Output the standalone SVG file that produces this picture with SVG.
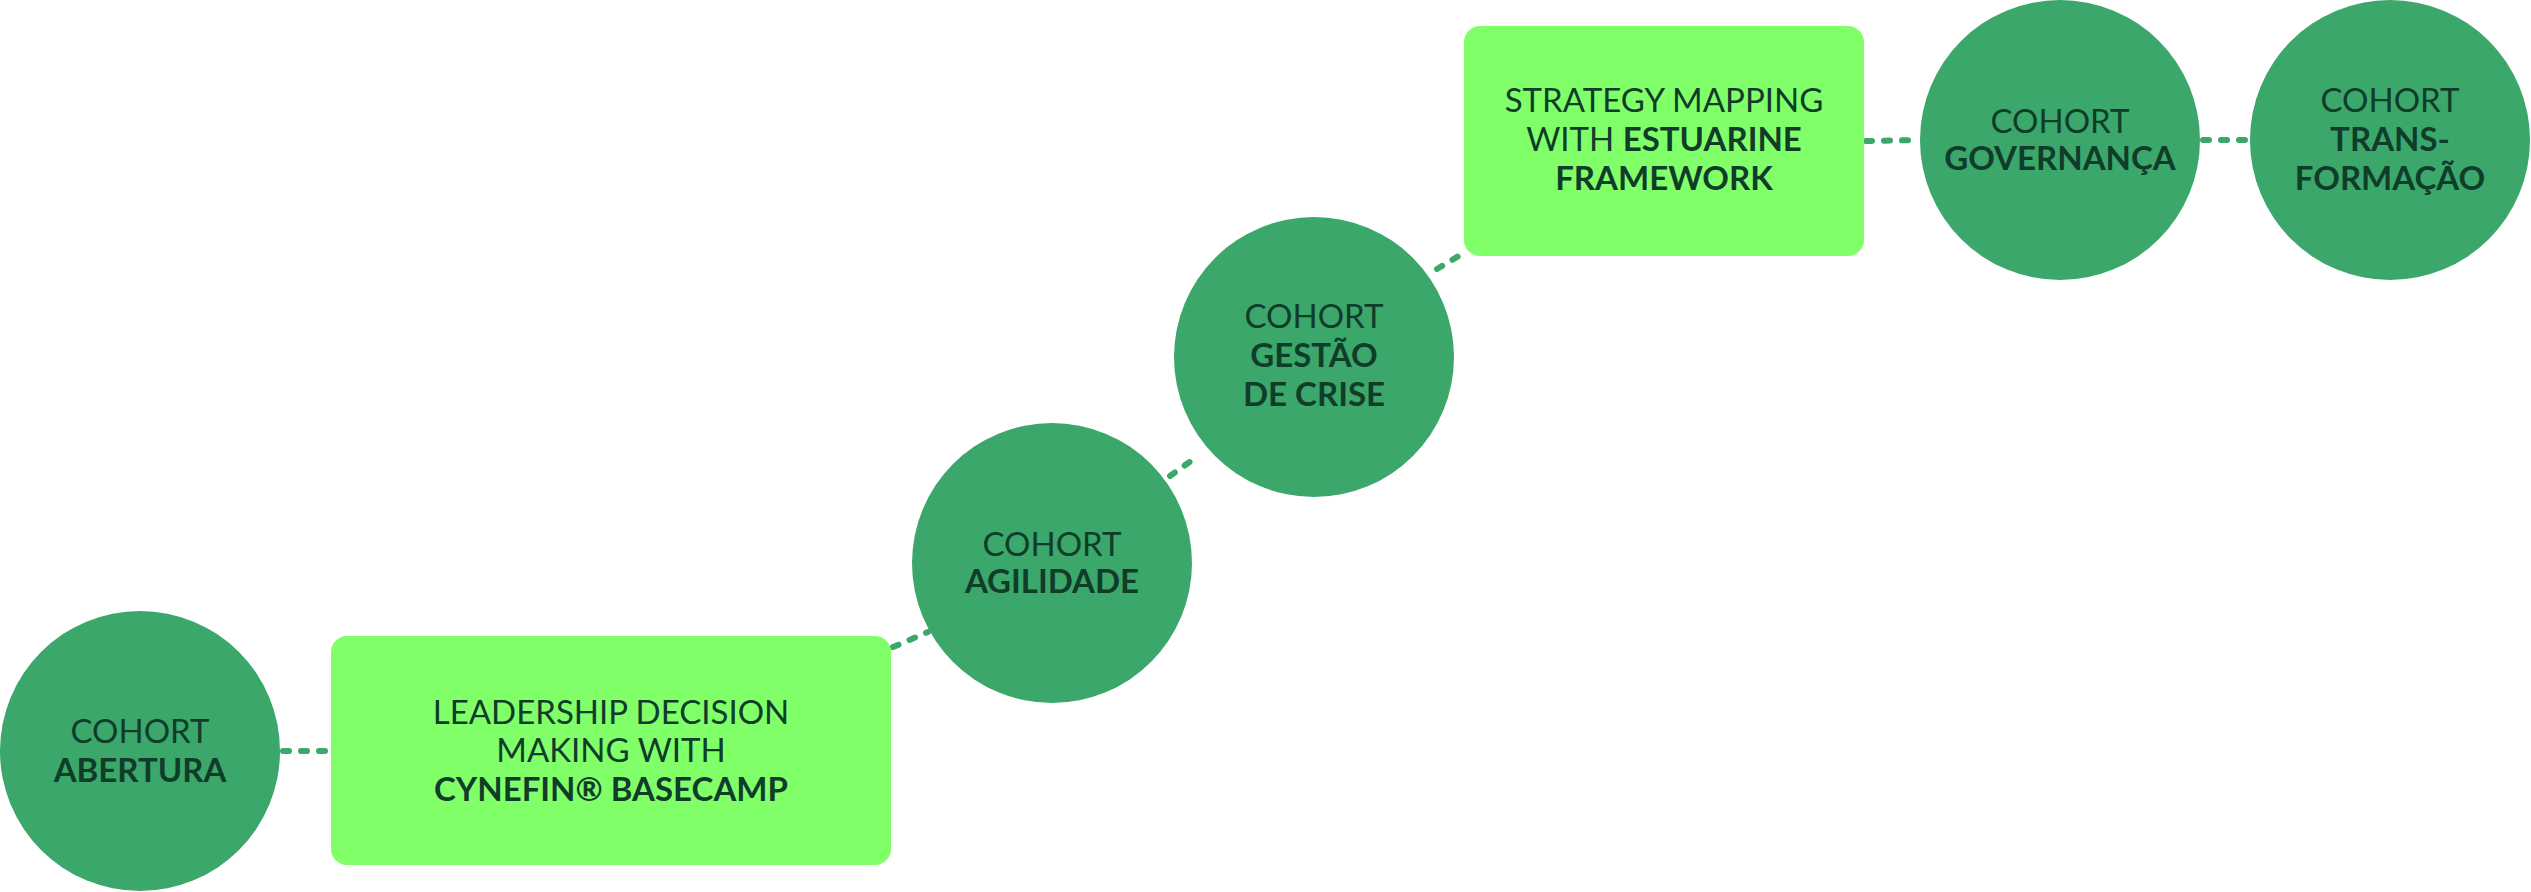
<svg xmlns="http://www.w3.org/2000/svg" width="2531" height="892" viewBox="0 0 2531 892">
<style>
.c{fill:#3ba76a}
.b{fill:#80ff69}
text{font-family:Lato,"Liberation Sans",sans-serif;font-size:33px;fill:#0f3d2a;text-anchor:middle}
.k{font-weight:bold}
#connectors line{stroke:#3ba76a;stroke-width:6;stroke-linecap:round;stroke-dasharray:6 12}
</style>
<rect width="2531" height="892" fill="#fff"/>
<g id="connectors">
<line x1="283" y1="751" x2="329" y2="751"/>
<line x1="893" y1="647" x2="928" y2="632"/>
<line x1="1170" y1="476" x2="1198" y2="456"/>
<line x1="1437" y1="269" x2="1462" y2="254"/>
<line x1="1866" y1="141" x2="1919" y2="140"/>
<line x1="2203" y1="140" x2="2248" y2="140"/>
</g>
<g id="abertura"><circle class="c" cx="140" cy="751" r="140"/>
<text x="140" y="743">COHORT</text><text class="k" x="140" y="782">ABERTURA</text></g>
<g id="leadership"><rect class="b" x="331" y="636" width="560" height="229" rx="16"/>
<text x="611" y="724">LEADERSHIP DECISION</text><text x="611" y="762">MAKING WITH</text><text class="k" x="611" y="801">CYNEFIN® BASECAMP</text></g>
<g id="agilidade"><circle class="c" cx="1052" cy="563" r="140"/>
<text x="1052" y="556">COHORT</text><text class="k" x="1052" y="593">AGILIDADE</text></g>
<g id="gestao"><circle class="c" cx="1314" cy="357" r="140"/>
<text x="1314" y="328">COHORT</text><text class="k" x="1314" y="367">GESTÃO</text><text class="k" x="1314" y="406">DE CRISE</text></g>
<g id="strategy"><rect class="b" x="1464" y="26" width="400" height="230" rx="16"/>
<text x="1664" y="112">STRATEGY MAPPING</text><text x="1664" y="151">WITH <tspan class="k">ESTUARINE</tspan></text><text class="k" x="1664" y="190">FRAMEWORK</text></g>
<g id="governanca"><circle class="c" cx="2060" cy="140" r="140"/>
<text x="2060" y="133">COHORT</text><text class="k" x="2060" y="170">GOVERNANÇA</text></g>
<g id="transformacao"><circle class="c" cx="2390" cy="140" r="140"/>
<text x="2390" y="112">COHORT</text><text class="k" x="2390" y="151">TRANS-</text><text class="k" x="2390" y="190">FORMAÇÃO</text></g>
</svg>
